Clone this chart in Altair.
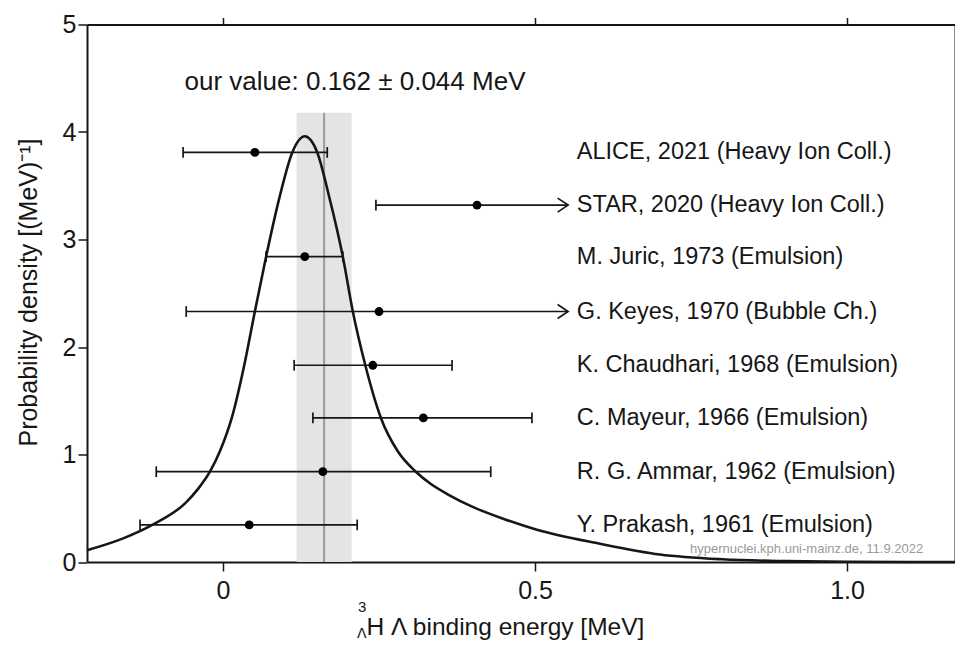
import altair as alt
import pandas as pd

# ---- data ----
curve_x = [-0.218, -0.16, -0.112, -0.06, -0.04, -0.021, -0.005, 0.014, 0.034, 0.051, 0.069, 0.09,
           0.111, 0.131, 0.151, 0.17, 0.192, 0.208, 0.228, 0.253, 0.28, 0.309, 0.332, 0.36,
           0.401, 0.45, 0.503, 0.604, 0.70, 0.80, 0.90, 1.0, 1.173]
curve_y = [0.11, 0.22, 0.35, 0.55, 0.68, 0.84, 1.03, 1.34, 1.83, 2.33, 2.84, 3.38,
           3.81, 3.96, 3.81, 3.40, 2.84, 2.33, 1.83, 1.34, 1.03, 0.84, 0.73, 0.63,
           0.51, 0.40, 0.30, 0.17, 0.07, 0.025, 0.008, 0.002, 0.0]

names = ["ALICE, 2021 (Heavy Ion Coll.)", "STAR, 2020 (Heavy Ion Coll.)",
         "M. Juric, 1973 (Emulsion)", "G. Keyes, 1970 (Bubble Ch.)",
         "K. Chaudhari, 1968 (Emulsion)", "C. Mayeur, 1966 (Emulsion)",
         "R. G. Ammar, 1962 (Emulsion)", "Y. Prakash, 1961 (Emulsion)"]
values = [0.051, 0.407, 0.131, 0.250, 0.240, 0.321, 0.160, 0.042]
lows = [-0.064, 0.245, 0.069, -0.059, 0.114, 0.144, -0.107, -0.133]
highs = [0.167, 0.570, 0.192, 0.560, 0.367, 0.495, 0.429, 0.215]
rows = [3.81, 3.32, 2.84, 2.33, 1.83, 1.34, 0.84, 0.345]

our_value = 0.162
our_err = 0.044
band_top = 4.18
label_x = 0.567
arrow_cut = 0.553

x_ticks = [0, 0.5, 1.0]
y_ticks = [0, 1, 2, 3, 4, 5]
x_domain = [-0.218, 1.173]
y_domain = [0, 5]

FONT = "Liberation Sans"
INK = "#161616"

# ---- tables ----
curve_df = pd.DataFrame({"x": curve_x, "y": curve_y})
meas = pd.DataFrame({"name": names, "v": values, "lo": lows, "hi": highs, "row": rows})
meas["hi_draw"] = meas["hi"].clip(upper=arrow_cut)
meas["arrow"] = meas["hi"] > arrow_cut
meas["lx"] = label_x
band_df = pd.DataFrame({"lo": [our_value - our_err], "hi": [our_value + our_err],
                        "c": [our_value], "y0": [0.0], "y1": [band_top]})
text_df = pd.DataFrame({"x": [0.2115], "y": [4.395],
                        "t": [f"our value: {our_value:.3f} ± {our_err:.3f} MeV"]})
wm_df = pd.DataFrame({"x": [1.122], "y": [0.085],
                      "t": ["hypernuclei.kph.uni-mainz.de, 11.9.2022"]})

xs = alt.Scale(domain=x_domain, nice=False, zero=False)
ys = alt.Scale(domain=y_domain, nice=False, zero=False)

def X(f, axis=None):
    return alt.X(f"{f}:Q", scale=xs, axis=axis, title=None)

def Y(f, axis=None):
    return alt.Y(f"{f}:Q", scale=ys, axis=axis, title=None)

bottom_axis = alt.Axis(orient="bottom", values=x_ticks,
                       labelExpr="datum.value == 0 ? '0' : format(datum.value, '.1f')",
                       labelPadding=7, title="H Λ binding energy [MeV]",
                       titleAlign="left", titleX=279, titleY=72,
                       titleBaseline="alphabetic", titleAngle=0)
left_axis = alt.Axis(orient="left", values=y_ticks, format="d", labelPadding=2,
                     title="Probability density [(MeV)⁻¹]", titleAngle=270,
                     titleAlign="center", titleX=-51, titleY=267.5,
                     titleBaseline="alphabetic", titleFontSize=25)
top_axis = alt.Axis(orient="top", values=x_ticks, labels=False, title=None, tickSize=7)
right_axis = alt.Axis(orient="right", values=y_ticks, labels=False, title=None, tickSize=7)

band = alt.Chart(band_df).mark_rect(color="#e4e4e4").encode(
    x=alt.X("lo:Q", scale=xs, axis=top_axis, title=None), x2="hi:Q",
    y=alt.Y("y0:Q", scale=ys, axis=right_axis, title=None), y2="y1:Q")

cline = alt.Chart(band_df).mark_rule(color="#9a9a9a", strokeWidth=2).encode(
    x=X("c"), y=Y("y0"), y2="y1:Q")

curve = alt.Chart(curve_df).mark_line(color=INK, strokeWidth=2.6,
                                      interpolate="monotone").encode(
    x=alt.X("x:Q", scale=xs, axis=bottom_axis),
    y=alt.Y("y:Q", scale=ys, axis=left_axis))

bars = alt.Chart(meas).mark_rule(color=INK, strokeWidth=1.7).encode(
    x=X("lo"), x2="hi_draw:Q", y=Y("row"))

lcaps = alt.Chart(meas).mark_point(shape="M0,-1L0,1", size=115, filled=False,
                                   color=INK, strokeWidth=1.7, opacity=1).encode(
    x=X("lo"), y=Y("row"))

rcaps = alt.Chart(meas).transform_filter("!datum.arrow").mark_point(
    shape="M0,-1L0,1", size=115, filled=False, color=INK, strokeWidth=1.7,
    opacity=1).encode(x=X("hi_draw"), y=Y("row"))

arrows = alt.Chart(meas).transform_filter("datum.arrow").mark_point(
    shape="M-1.5,-1L0,0L-1.5,1", size=196, filled=False, color=INK,
    strokeWidth=1.7, opacity=1).encode(x=X("hi_draw"), y=Y("row"))

dots = alt.Chart(meas).mark_circle(size=78, color="black", opacity=1).encode(
    x=X("v"), y=Y("row"))

labels = alt.Chart(meas).mark_text(align="left", baseline="middle", font=FONT,
                                   fontSize=23.5, color=INK).encode(
    x=X("lx"), y=Y("row"), text="name:N")

ourtxt = alt.Chart(text_df).mark_text(align="center", baseline="alphabetic",
                                      font=FONT, fontSize=26, color=INK).encode(
    x=X("x"), y=Y("y"), text="t:N")

wm = alt.Chart(wm_df).mark_text(align="right", baseline="alphabetic", font=FONT,
                                fontSize=13, color="#9a9a9a").encode(
    x=X("x"), y=Y("y"), text="t:N")

pre_df = pd.DataFrame({"t": ["3", "Λ"]})
pre3 = alt.Chart(pre_df.iloc[[0]]).mark_text(align="left", baseline="alphabetic",
                                             font=FONT, fontSize=15, color=INK).encode(
    x=alt.value(271), y=alt.value(587), text="t:N")
preL = alt.Chart(pre_df.iloc[[1]]).mark_text(align="left", baseline="alphabetic",
                                             font="DejaVu Sans", fontSize=14, color=INK).encode(
    x=alt.value(270), y=alt.value(613), text="t:N")

chart = alt.layer(band, cline, curve, bars, lcaps, rcaps, arrows, dots, labels,
                  ourtxt, wm, pre3, preL).resolve_axis(
    x="independent", y="independent").properties(
    width=868, height=537.5,
    padding={"left": 79, "top": 16.5, "right": 0, "bottom": 83},
    autosize=alt.AutoSizeParams(type="none"),
).configure_view(stroke=None).configure_axis(
    grid=False, labelFont=FONT, labelFontSize=25, labelColor=INK,
    titleFont=FONT, titleFontSize=24.5, titleFontWeight="normal", titleColor=INK,
    domainColor=INK, domainWidth=2, tickColor=INK, tickWidth=1.5, tickSize=9,
)

chart.save("out.html", embed_options={"renderer": "svg", "actions": False})
